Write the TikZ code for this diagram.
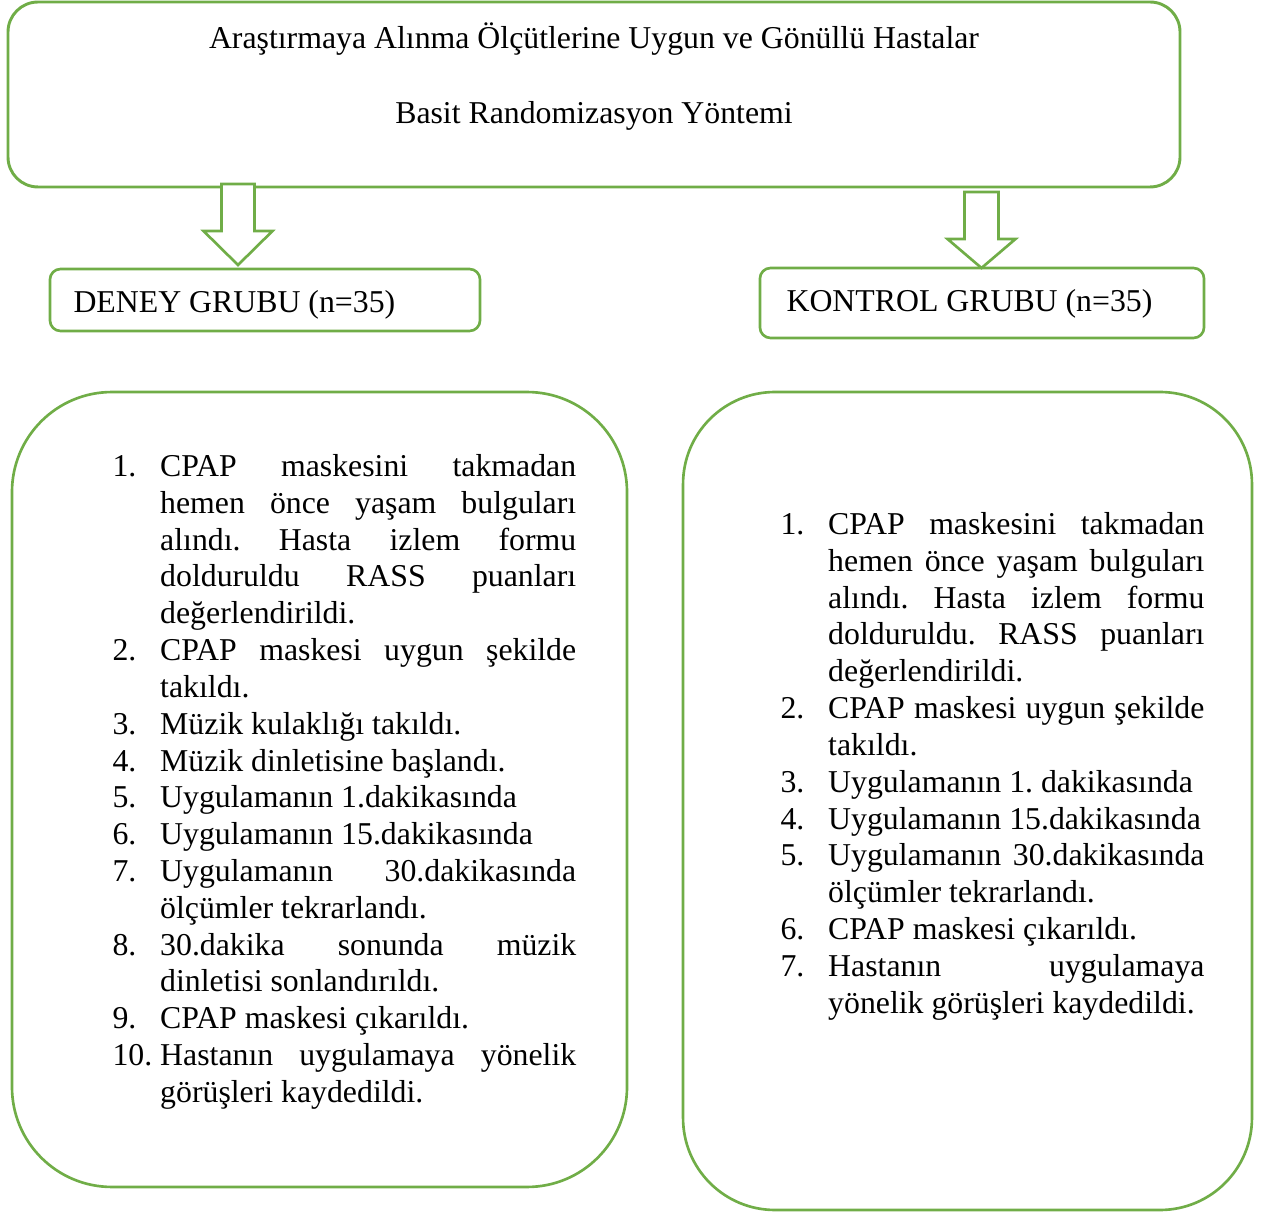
\documentclass[tikz,border=0pt]{standalone}
\usepackage{fontspec}
\setmainfont{Liberation Serif}
\usepackage{xcolor}
\usepackage{enumitem}
\usetikzlibrary{positioning}

\definecolor{yesil}{RGB}{112,173,71}
\setlist[enumerate]{label=\arabic*., leftmargin=18pt, labelwidth=18pt, labelsep=0pt,
  align=left, itemsep=0pt, parsep=0pt, topsep=0pt, partopsep=0pt}

\begin{document}
\begin{tikzpicture}[
  x=0.3774pt, y=-0.3774pt,
  font=\fontsize{12}{13.9}\selectfont,
  kutu/.style={draw=yesil, line width=1.1pt, rounded corners=11.3pt, inner sep=0pt},
  grup/.style={draw=yesil, line width=1pt, rounded corners=4pt, inner sep=0pt},
  liste/.style={draw=yesil, line width=1pt, inner sep=0pt},
  metin/.style={inner sep=0pt},
  adimlar/.style={inner sep=0pt, text width=#1, align=justify, anchor=north west},
  blokok/.style={draw=yesil, line width=1pt, fill=white, line join=miter}
]
  \useasboundingbox (0,0) rectangle (1265,1212);

  % ust kutu
  \node[kutu, minimum width=442.3pt, minimum height=69.8pt] (hdr) at (594,94.5) {};
  \node[metin, anchor=base] (baslik1) at (594,49) {Araştırmaya Alınma Ölçütlerine Uygun ve Gönüllü Hastalar};
  \node[metin, anchor=base] (baslik2) at (594,124) {Basit Randomizasyon Yöntemi};

  % gruplar
  \node[grup, minimum width=162.3pt, minimum height=23.4pt] (deney) at (265,300) {};
  \node[metin, anchor=base west] (deneyad) at (73,313) {DENEY GRUBU (n=35)};
  \node[grup, minimum width=167.6pt, minimum height=26.4pt] (kontrol) at (982,303) {};
  \node[metin, anchor=base west] (kontrolad) at (786,312) {KONTROL GRUBU (n=35)};

  % oklar
  \coordinate (ok1) at (221.5,184);
  \coordinate (ok2) at (964.5,192);
  \draw[blokok] (ok1) -- ++(0,47) -- ++(-18,0) -- ++(34.5,34) -- ++(34.5,-34)
    -- ++(-18,0) -- ++(0,-47) -- cycle;
  \draw[blokok] (ok2) -- ++(0,47) -- ++(-17,0) -- ++(34,29) -- ++(34,-29)
    -- ++(-17,0) -- ++(0,-47) -- cycle;

  % adim kutulari
  \node[liste, rounded corners=37.7pt, minimum width=232.1pt, minimum height=300pt] (deneykutu) at (319.5,789.5) {};
  \node[liste, rounded corners=34.7pt, minimum width=214.7pt, minimum height=308.7pt] (kontrolkutu) at (967.5,801) {};

  \node[adimlar=175pt] (deneyadim) at (112,439) {\frenchspacing\tolerance=10000\hbadness=10000\hyphenpenalty=10000
    \begin{enumerate}
      \item CPAP maskesini takmadan\linebreak hemen önce yaşam bulguları\linebreak alındı. Hasta izlem formu\linebreak dolduruldu RASS puanları\linebreak değerlendirildi.
      \item CPAP maskesi uygun şekilde\linebreak takıldı.
      \item Müzik kulaklığı takıldı.
      \item Müzik dinletisine başlandı.
      \item Uygulamanın 1.dakikasında
      \item Uygulamanın 15.dakikasında
      \item Uygulamanın 30.dakikasında\linebreak ölçümler tekrarlandı.
      \item 30.dakika sonunda müzik\linebreak dinletisi sonlandırıldı.
      \item CPAP maskesi çıkarıldı.
      \item Hastanın uygulamaya yönelik\linebreak görüşleri kaydedildi.
    \end{enumerate}};

  \node[adimlar=160pt] (kontroladim) at (780,497) {\frenchspacing\tolerance=10000\hbadness=10000\hyphenpenalty=10000
    \begin{enumerate}
      \item CPAP maskesini takmadan\linebreak hemen önce yaşam bulguları\linebreak alındı. Hasta izlem formu\linebreak dolduruldu. RASS puanları\linebreak değerlendirildi.
      \item CPAP maskesi uygun şekilde\linebreak takıldı.
      \item Uygulamanın 1. dakikasında
      \item Uygulamanın 15.dakikasında
      \item Uygulamanın 30.dakikasında\linebreak ölçümler tekrarlandı.
      \item CPAP maskesi çıkarıldı.
      \item Hastanın uygulamaya\linebreak yönelik görüşleri kaydedildi.
    \end{enumerate}};
\end{tikzpicture}
\end{document}
